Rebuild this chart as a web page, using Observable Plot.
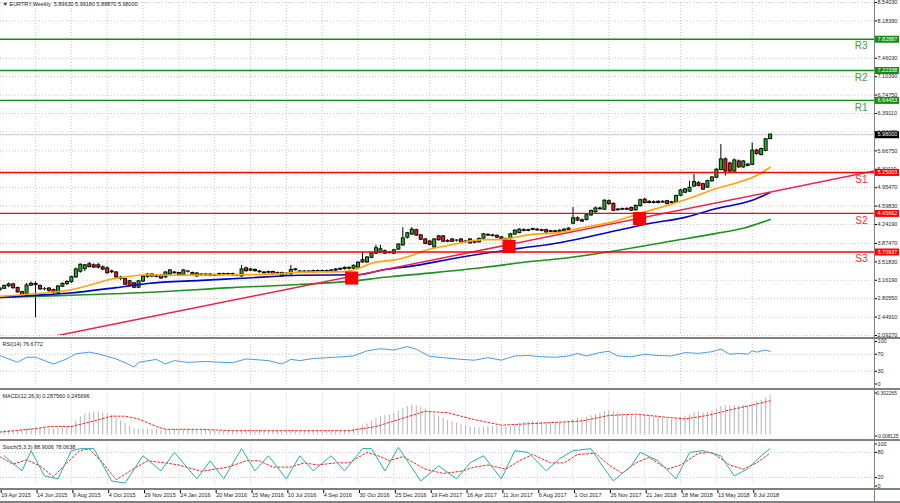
<!DOCTYPE html>
<html><head><meta charset="utf-8">
<script src="https://cdn.jsdelivr.net/npm/d3@7"></script>
<script src="https://cdn.jsdelivr.net/npm/@observablehq/plot@0.6"></script>
<style>
html,body{margin:0;padding:0;background:#fff;}
#wrap{position:relative;width:900px;height:503px;overflow:hidden;background:#fff;}
.sep{position:absolute;left:0;width:900px;height:2px;background:#808080;}
</style></head><body><div id="wrap"></div>
<script>
// ---------- DATA ----------
const startDate = "2015-04-19"; // first weekly bar
const open = [2.97,3.00,3.05,3.08,3.01,2.93,2.90,3.06,3.09,3.05, 2.99,3.00,2.97,2.92,3.04,3.09,3.13,3.22,3.33,3.38, 3.47,3.45,3.45,3.41,3.39,3.33,3.31,3.21,3.18,3.14, 3.10,3.02,3.14,3.23,3.27,3.24,3.25,3.22,3.28,3.31, 3.30,3.26,3.33,3.30,3.29,3.27,3.26,3.27,3.25,3.26, 3.28,3.27,3.28,3.26,3.24,3.39,3.35,3.36,3.33,3.31, 3.31,3.32,3.30,3.24,3.29,3.28,3.37,3.33,3.31,3.33, 3.32,3.34,3.33,3.34,3.33,3.35,3.37,3.38,3.40,3.39, 3.41,3.55,3.51,3.60,3.68,3.70,3.72,3.69,3.68,3.76, 3.84,3.99,4.05,4.13,4.03,3.95,3.91,3.80,4.01,4.01, 3.92,3.95,3.93,3.95,3.90,3.95,3.89,3.90,3.97,4.03, 4.03,4.02,3.99,3.95,3.96,4.05,4.08,4.13,4.12,4.14, 4.14,4.13,4.13,4.10,4.11,4.10,4.12,4.14,4.26,4.36, 4.32,4.33,4.42,4.48,4.55,4.53,4.69,4.64,4.52,4.53, 4.54,4.56,4.52,4.60,4.72,4.66,4.67,4.66,4.68,4.69, 4.66,4.67,4.80,4.86,4.88,4.98,5.04,5.02,4.96,5.08, 5.15,5.30,5.50,5.42,5.27,5.46,5.35,5.38,5.40,5.67, 5.59,5.67,5.8963];
const high = [3.02,3.07,3.11,3.10,3.03,2.95,3.10,3.13,3.13,3.07, 3.02,3.02,2.99,3.06,3.11,3.15,3.24,3.40,3.48,3.47, 3.51,3.48,3.49,3.44,3.42,3.36,3.33,3.24,3.20,3.16, 3.12,3.16,3.25,3.29,3.29,3.27,3.27,3.33,3.37,3.33, 3.32,3.37,3.35,3.32,3.31,3.29,3.29,3.29,3.28,3.30, 3.30,3.30,3.30,3.28,3.45,3.42,3.39,3.38,3.35,3.33, 3.34,3.34,3.32,3.32,3.31,3.45,3.39,3.35,3.35,3.35, 3.36,3.36,3.36,3.36,3.37,3.39,3.40,3.42,3.42,3.46, 3.52,3.70,3.62,3.70,3.84,3.84,3.75,3.72,3.76,3.87, 4.18,4.09,4.18,4.15,4.05,3.97,3.93,3.97,4.03,4.03, 3.95,3.97,3.95,3.97,3.93,3.97,3.92,3.98,4.07,4.06, 4.05,4.04,4.01,3.98,4.07,4.14,4.16,4.16,4.15,4.17, 4.16,4.15,4.15,4.13,4.13,4.14,4.16,4.18,4.57,4.39, 4.35,4.44,4.52,4.58,4.58,4.72,4.72,4.66,4.55,4.56, 4.57,4.58,4.62,4.73,4.75,4.70,4.70,4.70,4.70,4.71, 4.69,4.81,4.92,4.94,5.08,5.21,5.07,5.04,5.10,5.17, 5.32,5.79,5.53,5.45,5.51,5.49,5.48,5.42,5.82,5.70, 5.72,5.90,5.9918];
const low = [2.94,2.98,3.02,2.99,2.91,2.86,2.88,3.04,2.44,2.96, 2.96,2.93,2.89,2.88,3.02,3.06,3.10,3.20,3.30,3.33, 3.40,3.39,3.38,3.35,3.28,3.29,3.19,3.16,3.06,3.03, 3.00,3.00,3.12,3.20,3.21,3.21,3.18,3.20,3.26,3.28, 3.24,3.24,3.30,3.25,3.22,3.24,3.24,3.23,3.23,3.24, 3.25,3.25,3.24,3.23,3.22,3.32,3.33,3.32,3.30,3.28, 3.29,3.26,3.27,3.22,3.26,3.26,3.34,3.29,3.29,3.30, 3.30,3.31,3.31,3.31,3.31,3.33,3.35,3.36,3.36,3.37, 3.39,3.49,3.49,3.58,3.66,3.68,3.66,3.67,3.66,3.74, 3.82,3.96,4.03,4.01,3.93,3.85,3.83,3.78,3.92,3.89, 3.89,3.89,3.90,3.87,3.88,3.86,3.87,3.88,3.95,4.01, 4.00,3.97,3.93,3.93,3.94,4.03,4.06,4.10,4.10,4.12, 4.11,4.10,4.07,4.08,4.08,4.08,4.10,4.12,4.24,4.30, 4.28,4.31,4.40,4.46,4.52,4.51,4.61,4.49,4.50,4.51, 4.51,4.49,4.50,4.58,4.64,4.64,4.64,4.64,4.65,4.62, 4.64,4.65,4.78,4.84,4.86,4.96,4.97,4.90,4.94,5.06, 5.13,5.28,5.18,5.25,5.25,5.33,5.33,5.36,5.38,5.58, 5.57,5.65,5.8887];
const close = [3.00,3.05,3.08,3.01,2.93,2.88,3.06,3.09,3.07,2.99, 2.99,2.96,2.92,3.04,3.09,3.13,3.22,3.37,3.46,3.45, 3.42,3.41,3.41,3.37,3.30,3.32,3.22,3.19,3.08,3.05, 3.02,3.14,3.23,3.27,3.24,3.23,3.20,3.31,3.35,3.30, 3.26,3.35,3.33,3.27,3.24,3.26,3.27,3.25,3.26,3.28, 3.27,3.28,3.26,3.26,3.37,3.34,3.37,3.34,3.32,3.30, 3.32,3.28,3.29,3.30,3.28,3.36,3.36,3.31,3.33,3.32, 3.34,3.33,3.34,3.33,3.35,3.37,3.38,3.40,3.39,3.44, 3.50,3.51,3.60,3.68,3.78,3.76,3.68,3.70,3.74,3.85, 3.97,4.07,4.14,4.03,3.95,3.87,3.85,3.95,3.94,3.91, 3.91,3.91,3.93,3.89,3.91,3.88,3.90,3.96,4.05,4.04, 4.02,3.99,3.95,3.96,4.05,4.12,4.14,4.12,4.13,4.15, 4.13,4.12,4.09,4.11,4.10,4.12,4.14,4.16,4.36,4.32, 4.30,4.42,4.50,4.55,4.54,4.70,4.64,4.51,4.53,4.54, 4.53,4.51,4.60,4.71,4.66,4.68,4.66,4.68,4.67,4.64, 4.67,4.79,4.90,4.92,4.95,5.06,4.99,4.92,5.08,5.15, 5.30,5.50,5.27,5.27,5.48,5.35,5.46,5.40,5.67,5.61, 5.70,5.89,5.98];

// moving averages (week index, value)
const maFastWeeks = [0,6,16,26,33,37,54,63,67,77,80,83,89,92,95,98,102,108,112,116,119,124,130,138,143,149,155,160,165,169,172];
const maFastValues = [2.85,2.89,2.98,3.20,3.27,3.26,3.27,3.29,3.32,3.33,3.39,3.49,3.57,3.64,3.74,3.80,3.87,3.95,3.95,4.01,4.05,4.08,4.18,4.32,4.46,4.61,4.78,4.94,5.06,5.19,5.35];
const maMidWeeks = [0,8,15,26,33,45,54,67,80,86,93,101,108,116,125,138,145,153,160,168,172];
const maMidValues = [2.83,2.87,2.91,3.02,3.10,3.16,3.20,3.26,3.27,3.37,3.45,3.58,3.68,3.78,3.89,4.13,4.26,4.38,4.55,4.71,4.86];
const maSlowWeeks = [0,15,34,52,67,78,86,97,108,119,125,152,160,166,172];
const maSlowValues = [2.83,2.87,2.93,3.02,3.08,3.14,3.22,3.31,3.41,3.53,3.58,3.95,4.07,4.17,4.34];

// trend line anchors
const trendWeeks = [12, 196];
const trendValues = [2.077, 5.29];

// support / resistance levels
const levelNames = ["R3","R2","R1","S1","S2","S3"];
const levelValues = [7.82887, 7.22338, 6.64453, 5.25003, 4.45662, 3.70937];

// signal markers
const markerDates = ["2016-10-20","2017-06-23","2018-01-13"];
const markerPrices = [3.206, 3.816, 4.358];

// axis ticks
const priceTicks = [8.54030,8.18390,7.46030,7.10390,6.74750,6.39110,6.03470,5.66750,5.31110,4.95470,4.59830,4.24190,3.87470,3.51830,3.16190,2.80550,2.44910,2.09270];
const dateTicks = ["2015-04-19","2015-06-14","2015-08-09","2015-10-04","2015-11-29","2016-01-24","2016-03-20","2016-05-15","2016-07-10","2016-09-04","2016-10-30","2016-12-25","2017-02-19","2017-04-16","2017-06-11","2017-08-06","2017-10-01","2017-11-26","2018-01-21","2018-03-18","2018-05-13","2018-07-08"];

// RSI(14)
const rsiWeeks = [0,4,6,8,12,15,17,20,22,26,28,30,31,35,37,39,42,46,52,55,60,63,65,67,70,75,79,82,85,88,91,93,96,99,103,106,109,112,115,118,121,124,127,129,131,134,136,138,141,144,147,150,153,156,159,161,163,165,167,168,169,171,172];
const rsiValues = [67,51,63,63,47,59,71,75,71,59,50,40,51,58,47,55,51,53,50,59,55,47,58,55,60,63,66,78,83,80,88,82,65,62,58,56,62,56,66,67,64,63,66,72,66,74,77,66,64,70,67,66,74,72,76,82,70,72,70,78,75,80,76.6772];
const rsiTicks = [100,70,30,0];

// MACD(12,26,9): main (histogram, one per week) and signal
const macdMain = [0.030,0.030,0.032,0.030,0.028, 0.040,0.045,0.048,0.050,0.050,0.048,0.045,0.042,0.045,0.050,0.055, 0.070,0.100,0.130,0.150, 0.160,0.165,0.165,0.160,0.150, 0.140,0.120,0.100,0.080,0.060,0.045, 0.040,0.040,0.040,0.038,0.035,0.032,0.035,0.040,0.040,0.038, 0.040,0.040,0.038,0.035,0.033,0.032,0.030,0.030,0.030,0.030,0.030,0.030,0.028,0.035,0.036,0.036,0.034,0.032,0.030,0.030,0.028,0.027,0.027,0.030,0.032,0.032, 0.030,0.030,0.030,0.030,0.030,0.030,0.030,0.030,0.031,0.032,0.034,0.034, 0.040,0.050,0.065,0.080,0.100,0.120,0.135,0.140,0.145,0.155,0.170,0.190, 0.205,0.215,0.210,0.200,0.185, 0.165,0.150,0.135,0.120,0.105,0.095,0.085,0.075,0.065,0.058,0.052,0.050,0.055,0.060,0.060, 0.058,0.055,0.055,0.062,0.072,0.082,0.088,0.092,0.095,0.095,0.093,0.090,0.087,0.085,0.085, 0.087,0.090,0.110,0.118,0.120,0.128,0.138,0.148,0.155,0.168,0.175, 0.168,0.160,0.152,0.143,0.135,0.135,0.140,0.140,0.135,0.130,0.125,0.120,0.113,0.110, 0.115,0.125,0.135,0.145,0.160,0.165,0.160,0.165,0.172,0.185,0.205,0.210,0.210,0.212,0.210,0.212,0.208,0.225,0.238,0.250,0.268,0.287560];
const macdSignalWeeks = [0,8,11,16,21,25,28,31,35,37,45,52,60,67,78,84,90,95,100,106,112,118,124,130,136,142,148,153,158,163,168,172];
const macdSignalValues = [0.02,0.045,0.06,0.06,0.10,0.135,0.135,0.115,0.06,0.04,0.04,0.03,0.03,0.03,0.03,0.06,0.12,0.17,0.16,0.11,0.07,0.08,0.09,0.10,0.14,0.15,0.13,0.115,0.14,0.18,0.215,0.245696];
const macdTicks = [0.302265, -0.008125];

// Stochastic(5,3,3)
const stochWeeks = [1,5,7,10,13,16,18,21,25,28,32,36,39,44,47,50,54,57,60,64,67,70,74,77,81,83,86,89,94,98,102,105,108,112,115,118,122,125,128,132,135,137,141,143,147,151,154,157,161,164,167,170,172];
const stochValues = [72,36,84,24,17,84,89,89,12,7,72,36,80,17,60,17,89,36,72,17,72,36,72,36,89,89,36,92,12,48,17,55,72,17,84,80,36,65,84,89,41,12,48,80,60,17,80,84,72,24,41,72,88.9006];
const stochSignalWeeks = [0,3,6,9,12,15,18,20,23,26,29,33,37,40,45,48,51,55,58,61,65,68,71,75,78,82,85,87,90,95,99,103,106,109,113,116,119,123,126,129,133,136,139,142,145,149,152,156,159,163,166,169,172];
const stochSignalValues = [70,52,62,48,22,55,85,88,55,15,35,60,55,50,35,40,45,60,60,45,45,55,50,55,55,80,70,60,70,40,30,35,45,50,40,60,75,55,55,75,78,50,30,55,68,40,50,78,80,50,40,55,78.0638];
const stochTicks = [100,80,20,0];

// ---------- BUILD ----------
const FONT = "'Liberation Sans', 'DejaVu Sans', Arial, sans-serif";
const fmt5 = d3.format(".5f");
const t0 = Date.parse(startDate + "T00:00:00Z");
const weekDate = w => new Date(t0 + w * 7 * 864e5);
const xDomain = [weekDate(0.18), weekDate(195.3)];
const X = {type: "utc", domain: xDomain, axis: null};
const W = 900, MR = 26;
const style = {background: "transparent", fontFamily: FONT, fontSize: "5.5px", overflow: "visible"};
const dotted = {stroke: "#c6c6c6", strokeOpacity: 1, strokeDasharray: "1,2"};
const xTicks = dateTicks.map(s => new Date(s + "T00:00:00Z"));

const GREEN = "#0f8f0f", RED = "#ff0000";
const n = close.length - 1;
const candles = close.map((c, i) => ({date: weekDate(i), open: open[i], high: high[i], low: low[i], close: c}));
const up = candles.filter(d => d.close >= d.open), down = candles.filter(d => d.close < d.open);
const pts = (ws, vs) => ws.map((w, i) => ({date: weekDate(w), value: vs[i]}));
const levels = levelNames.map((name, i) => ({name, value: levelValues[i]}));
const levelsR = levels.filter(d => d.name[0] === "R"), levelsS = levels.filter(d => d.name[0] === "S");
const markers = markerDates.map((d, i) => ({date: new Date(d + "T00:00:00Z"), price: markerPrices[i]}));
const lastPrice = [{value: close[n]}];
const title = `\u25BC EURTRY,Weekly  ${fmt5(open[n])} ${fmt5(high[n])} ${fmt5(low[n])} ${fmt5(close[n])}`;

const bodyTop = d => Math.max(d.open, d.close), bodyBot = d => Math.min(d.open, d.close);
const axisOpts = {anchor: "right", tickSize: 2, tickPadding: 1, fontSize: 5.5, fill: "#222", label: null};

const main = Plot.plot({
  width: W, height: 337, marginLeft: 0, marginRight: MR, marginTop: 2, marginBottom: 2,
  x: X, y: {domain: [2.0927, 8.5403], axis: null, label: null}, style,
  marks: [
    Plot.gridY(priceTicks, dotted),
    Plot.gridX(xTicks, dotted),
    Plot.ruleY(lastPrice, {y: "value", stroke: "#c8c8c8"}),
    Plot.ruleX(candles, {x: "date", y1: "low", y2: "high", stroke: "#000", strokeWidth: 1}),
    Plot.ruleX(candles, {x: "date", y1: bodyTop, y2: bodyBot, stroke: "#000", strokeWidth: 4, insetTop: -0.6, insetBottom: -0.6}),
    Plot.ruleX(up, {x: "date", y1: bodyTop, y2: bodyBot, stroke: "#27a827", strokeWidth: 2.2, insetTop: 0.3, insetBottom: 0.3}),
    Plot.ruleX(down, {x: "date", y1: bodyTop, y2: bodyBot, stroke: "#e01e1e", strokeWidth: 2.2, insetTop: 0.3, insetBottom: 0.3}),
    Plot.line(pts(maSlowWeeks, maSlowValues), {x: "date", y: "value", stroke: "#1f8f1f", strokeWidth: 1.6, curve: "monotone-x"}),
    Plot.line(pts(maMidWeeks, maMidValues), {x: "date", y: "value", stroke: "#0000cc", strokeWidth: 1.6, curve: "monotone-x"}),
    Plot.line(pts(maFastWeeks, maFastValues), {x: "date", y: "value", stroke: "#ffa500", strokeWidth: 1.6, curve: "monotone-x"}),
    Plot.line(pts(trendWeeks, trendValues), {x: "date", y: "value", stroke: "#e8234d", strokeWidth: 1.5, clip: true}),
    Plot.ruleY(levelsR, {y: "value", stroke: GREEN, strokeWidth: 1.4}),
    Plot.ruleY(levelsS, {y: "value", stroke: RED, strokeWidth: 1.4}),
    Plot.dot(markers, {x: "date", y: "price", symbol: "square", r: 7.4, fill: RED, stroke: "none"}),
    Plot.text(levelsR, {y: "value", text: "name", frameAnchor: "right", textAnchor: "end", dx: -7, dy: 7, fill: "#3a9f3a", fontSize: 10}),
    Plot.text(levelsS, {y: "value", text: "name", frameAnchor: "right", textAnchor: "end", dx: -7, dy: 7, fill: "#ff2a2a", fontSize: 10}),
    Plot.axisY(priceTicks, {...axisOpts, tickFormat: fmt5}),
    Plot.tickY(levelsR, {y: "value", stroke: GREEN, strokeWidth: 7, insetLeft: W - MR + 1, insetRight: -MR + 1}),
    Plot.tickY(levelsS, {y: "value", stroke: RED, strokeWidth: 7, insetLeft: W - MR + 1, insetRight: -MR + 1}),
    Plot.tickY(lastPrice, {y: "value", stroke: "#000", strokeWidth: 7, insetLeft: W - MR + 1, insetRight: -MR + 1}),
    Plot.text(levels, {y: "value", text: d => fmt5(d.value), frameAnchor: "right", textAnchor: "start", dx: 3, fill: "#fff", fontSize: 5.5}),
    Plot.text(lastPrice, {y: "value", text: d => fmt5(d.value), frameAnchor: "right", textAnchor: "start", dx: 3, fill: "#fff", fontSize: 5.5}),
    Plot.text([title], {text: d => d, frameAnchor: "top-left", textAnchor: "start", lineAnchor: "top", dx: 2, dy: 0, fontSize: 5.5, fill: "#222"})
  ]
});

const rsi = Plot.plot({
  width: W, height: 49, marginLeft: 0, marginRight: MR, marginTop: 2, marginBottom: 4.5,
  x: X, y: {domain: [0, 100], axis: null, label: null}, style,
  marks: [
    Plot.gridX(xTicks, dotted),
    Plot.gridY([70, 30], dotted),
    Plot.line(pts(rsiWeeks, rsiValues), {x: "date", y: "value", stroke: "#4a9be8", strokeWidth: 1}),
    Plot.axisY(rsiTicks, axisOpts),
    Plot.text([`RSI(14) ${rsiValues[rsiValues.length - 1].toFixed(4)}`], {text: d => d, frameAnchor: "top-left", textAnchor: "start", lineAnchor: "top", dx: 2, dy: 1, fontSize: 5.5, fill: "#222"})
  ]
});

const macdData = macdMain.map((v, i) => ({date: weekDate(i), value: v}));
const macd = Plot.plot({
  width: W, height: 49, marginLeft: 0, marginRight: MR, marginTop: 2.5, marginBottom: 3.5,
  x: X, y: {domain: [-0.008125, 0.302265], axis: null, label: null}, style,
  marks: [
    Plot.gridX(xTicks, dotted),
    Plot.ruleX(macdData, {x: "date", y1: 0, y2: "value", stroke: "#b4b4b4", strokeWidth: 1}),
    Plot.line(pts(macdSignalWeeks, macdSignalValues), {x: "date", y: "value", stroke: "#ff2020", strokeWidth: 1, strokeDasharray: "2,2"}),
    Plot.axisY(macdTicks, {...axisOpts, tickPadding: 0, fontSize: 4.9, tickFormat: d => d.toFixed(6)}),
    Plot.text([`MACD(12,26,9) ${macdMain[n].toFixed(6)} ${macdSignalValues[macdSignalValues.length - 1].toFixed(6)}`], {text: d => d, frameAnchor: "top-left", textAnchor: "start", lineAnchor: "top", dx: 2, dy: 1, fontSize: 5.5, fill: "#222"})
  ]
});

const stoch = Plot.plot({
  width: W, height: 47, marginLeft: 0, marginRight: MR, marginTop: 2.5, marginBottom: 2.5,
  x: X, y: {domain: [0, 100], axis: null, label: null}, style,
  marks: [
    Plot.gridX(xTicks, dotted),
    Plot.gridY([80, 20], dotted),
    Plot.line(pts(stochSignalWeeks, stochSignalValues), {x: "date", y: "value", stroke: "#ff2020", strokeWidth: 1, strokeDasharray: "2,2"}),
    Plot.line(pts(stochWeeks, stochValues), {x: "date", y: "value", stroke: "#20b2aa", strokeWidth: 1}),
    Plot.axisY(stochTicks, axisOpts),
    Plot.text([`Stoch(5,3,3) ${stochValues[stochValues.length - 1].toFixed(4)} ${stochSignalValues[stochSignalValues.length - 1].toFixed(4)}`], {text: d => d, frameAnchor: "top-left", textAnchor: "start", lineAnchor: "top", dx: 2, dy: 1, fontSize: 5.5, fill: "#222"})
  ]
});

const xaxis = Plot.plot({
  width: W, height: 11, marginLeft: 0, marginRight: MR, marginTop: 0, marginBottom: 11,
  x: {...X, label: null}, style,
  marks: [
    Plot.axisX(xTicks, {anchor: "bottom", tickSize: 3, tickPadding: 0, label: null, tickFormat: d3.utcFormat("%-d %b %Y"), textAnchor: "start", lineAnchor: "top", dx: 1.5, fontSize: 5.5, fill: "#222"})
  ]
});

const wrap = document.getElementById("wrap");
function place(el, top) {
  const d = document.createElement("div");
  d.style.cssText = `position:absolute;left:0;top:${top}px;`;
  d.appendChild(el);
  wrap.appendChild(d);
}
place(main, 0);
place(rsi, 339);
place(macd, 390);
place(stoch, 441);
place(xaxis, 490);
for (const t of [337, 388, 439, 488, 501]) {
  const s = document.createElement("div");
  s.className = "sep";
  s.style.top = t + "px";
  wrap.appendChild(s);
}
const v = document.createElement("div");
v.style.cssText = "position:absolute;left:874px;top:0;width:1px;height:501px;background:#808080;";
wrap.appendChild(v);
</script></body></html>
